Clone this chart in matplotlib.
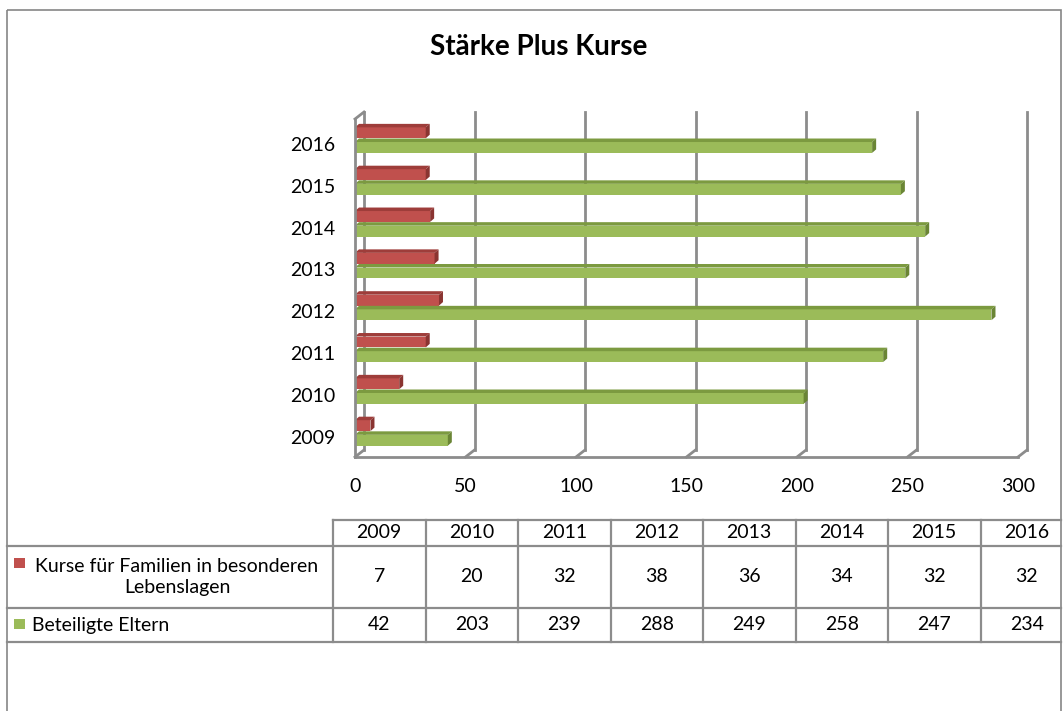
import matplotlib as mpl
mpl.use("Agg")

import matplotlib.pyplot as plt             # noqa
from matplotlib.patches import Polygon, Rectangle  # noqa

# data
years   = ['2009', '2010', '2011', '2012', '2013', '2014', '2015', '2016']
kurse   = [7, 20, 32, 38, 36, 34, 32, 32]
eltern  = [42, 203, 239, 288, 249, 258, 247, 234]
names   = ['Kurse für Familien in besonderen\nLebenslagen', 'Beteiligte Eltern']
title   = 'Stärke Plus Kurse'
xticks  = [0, 50, 100, 150, 200, 250, 300]

RED, RED_TOP, RED_SIDE = '#C0504D', '#9E3D3A', '#8A3431'
GRN, GRN_TOP, GRN_SIDE = '#9BBB59', '#7C9A40', '#6A8535'
GRID = '#8C8C8C'
FS = 14

W, H = 1063, 711
plt.rcParams['font.family'] = ['Lato', 'DejaVu Sans']
fig = plt.figure(figsize=(W / 100, H / 100), dpi=100)

# pixel-space layer for border, title and data table
bg = fig.add_axes([0, 0, 1, 1])
bg.set_xlim(0, W)
bg.set_ylim(H, 0)
bg.axis('off')

# plot area (front plane)
X0, X1, YB, YT = 355, 1018, 457, 119
ax = fig.add_axes([X0 / W, 1 - YB / H, (X1 - X0) / W, (YB - YT) / H])
ylo, yhi = -0.45, 7.63
ax.set_xlim(0, 300)
ax.set_ylim(ylo, yhi)
ax.axis('off')

pxx = (X1 - X0) / 300.0
pxy = (YB - YT) / (yhi - ylo)
DX, DY = 4 / pxx, 3.5 / pxy      # bar depth
BX, BY = 9 / pxx, 7 / pxy        # back wall offset


def bar3d(pos, vals, h, face, top, side):
  ax.barh(pos, vals, height=h, left=0, color=face, linewidth=0, zorder=3)
  for y, v in zip(pos, vals):
    yt = y + h / 2
    yb = y - h / 2
    ax.add_patch(Polygon([(0, yt), (v, yt), (v + DX, yt + DY), (DX, yt + DY)],
                         closed=True, fc=top, ec='none', zorder=3))
    ax.add_patch(Polygon([(v, yb), (v + DX, yb + DY), (v + DX, yt + DY), (v, yt)],
                         closed=True, fc=side, ec='none', zorder=3))


# gridlines on back wall + floor
for x in xticks:
  ax.plot([x + BX, x + BX], [ylo + BY, yhi + BY], color=GRID, lw=2, zorder=1, clip_on=False)
  ax.plot([x, x + BX], [ylo, ylo + BY], color=GRID, lw=2, zorder=1, clip_on=False)
ax.plot([0, 300], [ylo, ylo], color=GRID, lw=2, zorder=1, clip_on=False)
ax.plot([0, 0], [ylo, yhi], color=GRID, lw=2, zorder=4, clip_on=False)
ax.plot([0, BX], [yhi, yhi + BY], color=GRID, lw=2, zorder=4, clip_on=False)

cats = list(range(len(years)))
bar3d([c + 0.30 for c in cats], kurse, 0.26, RED, RED_TOP, RED_SIDE)
bar3d([c - 0.05 for c in cats], eltern, 0.26, GRN, GRN_TOP, GRN_SIDE)

for c, lab in zip(cats, years):
  ax.text(-20 / pxx, c, lab, ha='right', va='center', fontsize=FS)
for x in xticks:
  ax.text(x, ylo - 30 / pxy, str(x), ha='center', va='center', fontsize=FS)

bg.text(539, 47, title, ha='center', va='center', fontsize=20, fontweight='bold')

# outer chart border
bg.add_patch(Rectangle((7, 10), 1054, 720, fill=False, ec='#868686', lw=1.2))

# data table
LINE = '#8C8C8C'
tl, tr = 7, 1061
c0, cw = 333, 92.5
r0, r1, r2, r3 = 520, 546, 608, 642
bg.plot([c0, tr], [r0, r0], color=LINE, lw=1.6)
for r in (r1, r2, r3):
  bg.plot([tl, tr], [r, r], color=LINE, lw=1.6)
for i in range(len(years)):
  xe = c0 + cw * i
  bg.plot([xe, xe], [r0, r3], color=LINE, lw=1.6)
  xc = xe + cw / 2
  bg.text(xc, (r0 + r1) / 2, years[i], ha='center', va='center', fontsize=FS)
  bg.text(xc, (r1 + r2) / 2, str(kurse[i]), ha='center', va='center', fontsize=FS)
  bg.text(xc, (r2 + r3) / 2, str(eltern[i]), ha='center', va='center', fontsize=FS)

bg.add_patch(Rectangle((14, 558), 11, 10, fc=RED, ec='none'))
bg.add_patch(Rectangle((14, 619), 11, 10, fc=GRN, ec='none'))
bg.text(177, (r1 + r2) / 2, names[0], ha='center', va='center', fontsize=FS,
        multialignment='center', linespacing=1.25)
bg.text(32, (r2 + r3) / 2, names[1], ha='left', va='center', fontsize=FS)

plt.savefig('out.png', dpi=100)
